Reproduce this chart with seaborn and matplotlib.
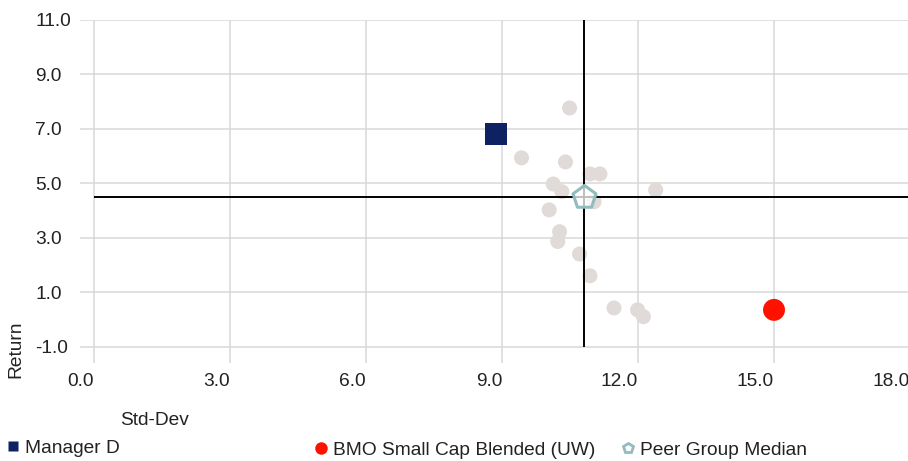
import matplotlib
matplotlib.use("Agg")
import matplotlib.pyplot as plt
import seaborn as sns
import pandas as pd
from matplotlib.lines import Line2D

# ---- data ----
peer_std = [10.49, 9.43, 10.40, 10.94, 11.16, 10.13, 10.32, 12.39, 11.03, 10.04,
            10.27, 10.23, 10.71, 10.94, 11.47, 11.99, 12.12]
peer_ret = [7.77, 5.94, 5.79, 5.35, 5.35, 4.98, 4.70, 4.76, 4.33, 4.03,
            3.23, 2.87, 2.41, 1.61, 0.43, 0.36, 0.11]
manager_std = [8.87]
manager_ret = [6.82]
bmo_std = [15.0]
bmo_ret = [0.36]
median_std = [10.81]
median_ret = [4.50]
x_ticks = [0.0, 3.0, 6.0, 9.0, 12.0, 15.0, 18.0]
y_ticks = [-1.0, 1.0, 3.0, 5.0, 7.0, 9.0, 11.0]
labels = ["Manager D", "BMO Small Cap Blended (UW)", "Peer Group Median"]

sns.set_theme(style="white")
plt.rcParams['font.family'] = ['Liberation Sans', 'DejaVu Sans']

GREY = "#e0dbd8"
NAVY = "#0e2161"
RED = "#ff1100"
TEAL = "#92bcbd"
FS = 13.8

fig = plt.figure(figsize=(9.08, 4.61), dpi=100)
W, H = 908, 461
left, right, top, bottom = 80, 910, 20, 363
ax = fig.add_axes([left / W, 1 - bottom / H, (right - left) / W, (bottom - top) / H])

ax.set_xlim(-0.31, 18.0)
ax.set_ylim(-1.59, 11.0)
ax.set_xticks(x_ticks)
ax.set_yticks(y_ticks)
ax.grid(True, color="#d9d9d9", linewidth=1.1)
ax.set_axisbelow(True)
for s in ax.spines.values():
    s.set_visible(False)

peers = pd.DataFrame({"std": peer_std, "ret": peer_ret})
sns.scatterplot(data=peers, x="std", y="ret", ax=ax, color=GREY, s=117,
                edgecolor="none", linewidth=0, zorder=2)

# crosshair lines at median
ax.plot([0, 18], [median_ret[0], median_ret[0]], color="black", lw=1.4, zorder=3,
        solid_capstyle="butt")
ax.plot([median_std[0], median_std[0]], [-1.0, 11.0], color="black", lw=1.4, zorder=3,
        solid_capstyle="butt")

sns.scatterplot(x=manager_std, y=manager_ret, ax=ax, marker="s", color=NAVY, s=250,
                edgecolor="none", linewidth=0, zorder=4)
sns.scatterplot(x=bmo_std, y=bmo_ret, ax=ax, marker="o", color=RED, s=250,
                edgecolor="none", linewidth=0, zorder=4)
ax.scatter(median_std, median_ret, marker="p", s=300, facecolor=(1, 1, 1, 0.75),
           edgecolor=TEAL, linewidth=2.2, zorder=5)

ax.set_xlabel("")
ax.set_ylabel("")
ax.set_xticklabels([f"{v:.1f}" for v in x_ticks], ha="right", fontsize=FS, color="#222222")
ax.set_yticklabels([f"{v:.1f}" for v in y_ticks], ha="left", fontsize=FS, color="#222222")
ax.tick_params(axis="x", length=0, pad=7.5)
ax.tick_params(axis="y", length=0, pad=(left - 35) * 72 / 100)

fig.text(16 / W, 1 - 378 / H, "Return", rotation=90, ha="center", va="bottom",
         fontsize=FS, color="#222222")
fig.text(120 / W, 1 - 420 / H, "Std-Dev", ha="left", va="center",
         fontsize=FS, color="#222222")

# legend
handles = [
    Line2D([], [], marker="s", linestyle="none", markersize=7, markerfacecolor=NAVY,
           markeredgecolor="none"),
    Line2D([], [], marker="o", linestyle="none", markersize=9, markerfacecolor=RED,
           markeredgecolor="none"),
    Line2D([], [], marker="p", linestyle="none", markersize=7.5, markerfacecolor="white",
           markeredgecolor=TEAL, markeredgewidth=2.0),
]
xs = [6, 314, 621]
ys = [448, 450, 450]
for h, lab, x, y in zip(handles, labels, xs, ys):
    fig.legend([h], [lab], loc="center left", bbox_to_anchor=(x / W, 1 - y / H),
               frameon=False, fontsize=FS, handlelength=0.7, handletextpad=0.3,
               borderpad=0, borderaxespad=0, labelcolor="#222222")

fig.savefig("out.png", dpi=100)
